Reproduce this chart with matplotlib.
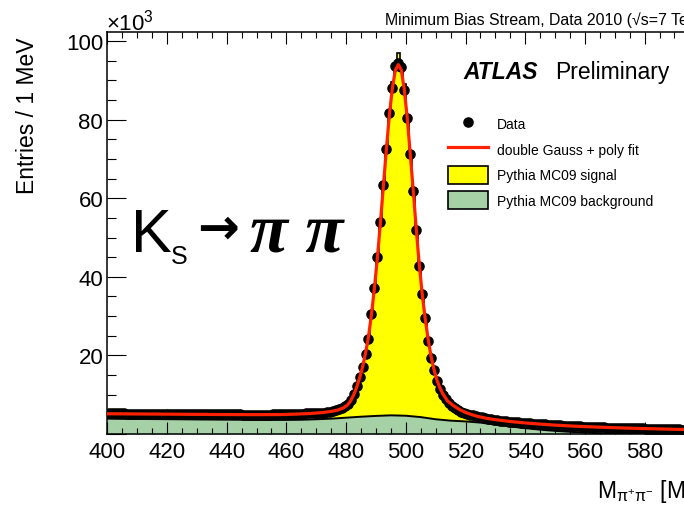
import numpy as np
import matplotlib
matplotlib.use("Agg")
from matplotlib import pyplot as plt
from matplotlib.patches import Patch
from matplotlib.lines import Line2D

plt.rcParams['font.family'] = ['Liberation Sans', 'DejaVu Sans']
plt.rcParams['mathtext.fontset'] = 'custom'
plt.rcParams['mathtext.rm'] = 'Liberation Sans'
plt.rcParams['mathtext.it'] = 'Liberation Sans:italic'

# data: entries per 1 MeV bin, in units of 10^3, bins 400-600 MeV
mass_lo, mass_hi = 400, 600
data_counts = [
    5.25, 5.25, 5.24, 5.23, 5.22, 5.22, 5.21, 5.20, 5.20, 5.19,   # 400
    5.18, 5.18, 5.17, 5.16, 5.16, 5.15, 5.14, 5.14, 5.13, 5.12,   # 410
    5.12, 5.11, 5.10, 5.10, 5.09, 5.08, 5.08, 5.07, 5.06, 5.06,   # 420
    5.05, 5.04, 5.04, 5.03, 5.02, 5.02, 5.01, 5.00, 5.00, 4.99,   # 430
    4.99, 4.98, 4.98, 4.97, 4.97, 4.96, 4.96, 4.96, 4.95, 4.95,   # 440
    4.95, 4.95, 4.95, 4.96, 4.96, 4.97, 4.98, 5.00, 5.02, 5.04,   # 450
    5.06, 5.08, 5.10, 5.13, 5.16, 5.19, 5.22, 5.25, 5.28, 5.30,   # 460
    5.32, 5.38, 5.45, 5.55, 5.70, 5.85, 6.05, 6.30, 6.60, 7.00,   # 470
    7.60, 8.60, 10.1, 12.1, 14.6, 17.0, 20.4, 24.3, 30.6, 37.2,   # 480
    45.0, 54.0, 63.3, 72.6, 81.6, 88.0, 93.7, 94.5, 93.5, 87.6,   # 490
    80.5, 71.2, 61.9, 52.0, 42.8, 35.5, 29.4, 23.7, 19.3, 16.2,   # 500
    13.4, 11.5, 10.0, 8.8, 7.9, 7.2, 6.6, 6.1, 5.7, 5.4,          # 510
    5.2, 4.95, 4.72, 4.52, 4.35, 4.2, 4.05, 3.9, 3.76, 3.63,      # 520
    3.52, 3.42, 3.32, 3.23, 3.15, 3.08, 3.01, 2.94, 2.88, 2.82,   # 530
    2.76, 2.70, 2.64, 2.58, 2.53, 2.48, 2.43, 2.38, 2.33, 2.28,   # 540
    2.23, 2.18, 2.14, 2.10, 2.06, 2.02, 1.98, 1.95, 1.92, 1.89,   # 550
    1.86, 1.83, 1.80, 1.77, 1.74, 1.71, 1.68, 1.65, 1.63, 1.61,   # 560
    1.58, 1.56, 1.54, 1.52, 1.50, 1.48, 1.46, 1.44, 1.42, 1.40,   # 570
    1.38, 1.36, 1.34, 1.32, 1.30, 1.28, 1.26, 1.24, 1.22, 1.20,   # 580
    1.18, 1.16, 1.14, 1.12, 1.10, 1.09, 1.08, 1.07, 1.06, 1.05,   # 590
]

# MC signal+background (stacked total), bins 470-530 MeV
mc_lo = 470
mc_total = [
    5.1, 5.2, 5.3, 5.4, 5.55, 5.75, 5.95, 6.2, 6.5, 6.9,
    7.5, 8.4, 9.8, 11.7, 14.0, 16.8, 20.2, 24.5, 30.0, 36.8,
    44.5, 53.5, 63.0, 72.5, 81.5, 89.5, 93.5, 97.0, 94.0, 89.0,
    80.5, 71.0, 61.5, 51.8, 42.8, 35.2, 29.0, 23.5, 19.0, 15.8,
    13.2, 11.3, 9.8, 8.6, 7.6, 6.8, 6.2, 5.7, 5.2, 4.8,
    4.4, 4.1, 3.85, 3.6, 3.4, 3.2, 3.05, 2.9, 2.75, 2.6,
]

# MC background
bkg_mass = [400, 405, 410, 415, 420, 425, 430, 435, 440, 445, 450, 455, 460,
            465, 470, 475, 480, 485, 490, 495, 500, 505, 510, 515, 520, 525,
            530, 535, 540, 545, 550, 555, 560, 565, 570, 575, 580, 600]
bkg_value = [3.9, 3.85, 3.82, 3.8, 3.77, 3.74, 3.7, 3.67, 3.64, 3.62, 3.6, 3.58, 3.58,
             3.62, 3.75, 3.9, 4.15, 4.4, 4.6, 4.75, 4.65, 4.3, 3.75, 3.4, 3.2, 2.9,
             2.4, 1.9, 1.5, 1.1, 0.8, 0.55, 0.35, 0.2, 0.1, 0.05, 0.0, 0.0]

# double Gauss + poly fit curve
fit_mass = [400, 410, 420, 430, 440, 450, 458, 464, 468, 472, 475, 477, 479,
            480.5, 481.5, 482.5, 483.5, 484.5, 485.5, 486.5, 487.5, 488.5, 489.5,
            490.5, 491.5, 492.5, 493.5, 494.5, 495.5, 496.5, 497.5, 498.5, 499.5,
            500.5, 501.5, 502.5, 503.5, 504.5, 505.5, 506.5, 507.5, 508.5, 509.5,
            510.5, 511.5, 512.5, 514, 516, 518, 520, 522, 524, 527, 530,
            535, 540, 545, 550, 555, 560, 570, 580, 590, 600]
fit_value = [5.15, 5.10, 5.05, 5.00, 4.95, 4.92, 4.95, 5.08, 5.22, 5.45, 5.75, 6.05, 6.60,
             7.40, 8.40, 9.90, 11.8, 14.2, 17.0, 20.5, 24.8, 30.4, 37.2,
             45.0, 53.8, 63.2, 72.5, 81.2, 88.0, 92.6, 94.0, 92.6, 87.6,
             80.3, 71.2, 61.9, 52.2, 43.2, 35.6, 29.3, 24.0, 19.6, 16.2,
             13.6, 11.6, 10.1, 8.4, 7.2, 6.2, 5.5, 4.95, 4.5, 4.0, 3.65,
             3.18, 2.82, 2.52, 2.26, 2.05, 1.88, 1.60, 1.38, 1.20, 1.05]

legend_labels = ["Data", "double Gauss + poly fit", "Pythia MC09 signal", "Pythia MC09 background"]

W, H = 684, 506
def fx(x): return x / W
def fy(y): return 1 - y / H

fig = plt.figure(figsize=(W / 100, H / 100), dpi=100)
ax_left, ax_top, ax_bot = 107.3, 33, 435
ax_w = (mass_hi - mass_lo) * 2.985
ax = fig.add_axes([fx(ax_left), fy(ax_bot), ax_w / W, (ax_bot - ax_top) / H])

data_x = np.arange(mass_lo, mass_hi) + 0.5
mc_edges = np.arange(mc_lo, mc_lo + len(mc_total) + 1)

yellow = "#ffff00"
green = "#a6d0a6"
red = "#ff2200"
ms = 6.6

ax.stairs(mc_total, mc_edges, fill=True, color=yellow, zorder=1)
ax.stairs(mc_total, mc_edges, color="black", lw=1.2, zorder=1.1)
ax.fill_between(bkg_mass, bkg_value, 0, color=green, lw=0, zorder=2)
ax.plot(bkg_mass, bkg_value, color="black", lw=1.4, zorder=2.1)
ax.plot(data_x, data_counts, "o", color="black", ms=ms, zorder=3)
ax.plot(fit_mass, fit_value, color=red, lw=2.3, zorder=4)

ax.set_xlim(mass_lo, mass_hi)
ax.set_ylim(0, 102.3)
ax.set_axisbelow(False)

ax.set_xticks(np.arange(400, 601, 20))
ax.set_xticks(np.arange(400, 601, 5), minor=True)
ax.set_yticks(np.arange(0, 101, 20), ["", "20", "40", "60", "80", "100"])
ax.set_yticks(np.arange(0, 101, 5), minor=True)
ax.tick_params(which="both", direction="in", top=True, right=True, width=0.8,
               labelsize=16, colors="black")
ax.tick_params(axis="x", which="major", length=8.6, pad=5)
ax.tick_params(axis="x", which="minor", length=4.3)
ax.tick_params(axis="y", which="major", length=13.5, pad=3)
ax.tick_params(axis="y", which="minor", length=6.5)
for s in ax.spines.values():
    s.set_linewidth(1.1)

fig.text(fx(28), fy(37), "Entries / 1 MeV", rotation=90, ha="center", va="top", fontsize=16.5)
fig.text(fx(597), fy(498), r"M$_{\mathrm{\pi^{+}\pi^{-}}}$ [MeV]", ha="left", va="baseline", fontsize=16.5)
fig.text(fx(106), fy(30), r"×10$^{\mathrm{3}}$", ha="left", va="baseline", fontsize=16)
fig.text(fx(385), fy(25), "Minimum Bias Stream, Data 2010 (√s=7 TeV)", ha="left", va="baseline", fontsize=11.4)
fig.text(fx(463), fy(79), "ATLAS", ha="left", va="baseline", fontsize=16.5,
         fontweight="bold", fontstyle="italic")
fig.text(fx(555), fy(79), "Preliminary", ha="left", va="baseline", fontsize=16.5)

fig.text(fx(131), fy(252), "K", ha="left", va="baseline", fontsize=44)
fig.text(fx(171), fy(264), "S", ha="left", va="baseline", fontsize=18)
fig.text(fx(197), fy(244), "→", ha="left", va="baseline", fontsize=36,
         fontweight="bold", family=["DejaVu Sans"])
fig.text(fx(250), fy(252), "π π", ha="left", va="baseline", fontsize=50,
         fontweight="bold", fontstyle="italic", family=["Liberation Serif", "DejaVu Serif"])

handles = [
    Line2D([], [], marker="o", ls="none", color="black", ms=ms),
    Line2D([], [], color=red, lw=2.3),
    Patch(facecolor=yellow, edgecolor="black", lw=1.2),
    Patch(facecolor=green, edgecolor="black", lw=1.2),
]
fig.legend(handles, legend_labels, loc="upper left", bbox_to_anchor=(fx(448), fy(116)),
           frameon=False, fontsize=10, handlelength=2.9, handleheight=1.6,
           handletextpad=0.62, labelspacing=0.55, borderpad=0, borderaxespad=0)

fig.savefig("out.png", dpi=100)
